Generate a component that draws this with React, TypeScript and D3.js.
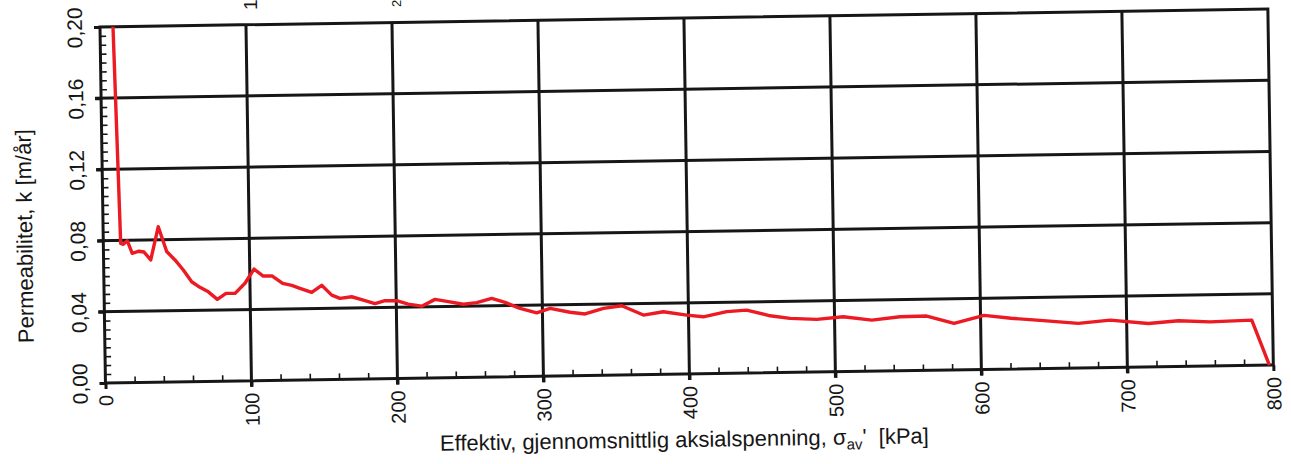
import React, { Component } from 'react';
import * as d3 from 'd3';

// effective average axial stress [kPa] and permeability k [m/år]
const stress = [
  8.9, 11.9, 13.7, 16.4, 19.7, 24.3, 27.8, 32.3, 37.8, 43.3, 48.9, 54.5, 60.1, 65.7,
  71.4, 77.5, 83.5, 89.7, 96.6, 102.9, 109.2, 115.4, 122.4, 128.6, 134.2, 142.2,
  149.1, 155.9, 161.5, 169.5, 177.5, 185.4, 192.3, 200.3, 208.2, 217.4, 226.6,
  235.7, 245.9, 255.1, 265.4, 274.5, 284.7, 296.1, 305.3, 318.9, 329.2, 341.8,
  354.4, 369.1, 382.8, 398.8, 410.1, 426.2, 439.9, 455.9, 469.5, 487.8, 506.0,
  525.5, 544.9, 563.2, 581.8, 602.4, 620.9, 643.0, 666.9, 688.7, 714.9, 735.5,
  757.2, 785.7, 797.3
];
const permeability = [
  0.200, 0.0783, 0.0777, 0.0797, 0.0726, 0.0737, 0.0732, 0.0687, 0.0873, 0.0733,
  0.0685, 0.0628, 0.0561, 0.0529, 0.0503, 0.0460, 0.0493, 0.0492, 0.0548, 0.0627,
  0.0587, 0.0586, 0.0544, 0.0532, 0.0515, 0.0491, 0.0530, 0.0474, 0.0455, 0.0463,
  0.0443, 0.0423, 0.0438, 0.0437, 0.0417, 0.0404, 0.0441, 0.0427, 0.0411, 0.0419,
  0.0442, 0.0418, 0.0383, 0.0357, 0.0381, 0.0357, 0.0346, 0.0376, 0.0389, 0.0335,
  0.0352, 0.0331, 0.0320, 0.0347, 0.0354, 0.0320, 0.0304, 0.0296, 0.0308, 0.0287,
  0.0303, 0.0305, 0.0261, 0.0304, 0.0285, 0.0269, 0.0251, 0.0266, 0.0244, 0.0257,
  0.0248, 0.0254, 0.0
];

const xMajor = [0, 100, 200, 300, 400, 500, 600, 700, 800];
const yMajor = [0, 0.04, 0.08, 0.12, 0.16, 0.2];
const yLabels = ['0,00', '0,04', '0,08', '0,12', '0,16', '0,20'];

class App extends Component {
  myRef = React.createRef<HTMLDivElement>();

  componentDidMount() {
    const root = d3.select(this.myRef.current);
    root.selectAll('*').remove();

    const width = 1168;
    const height = 356;
    const font = '"Liberation Sans", Arial, sans-serif';
    const ink = '#161616';

    const x = d3.scaleLinear().domain([0, 800]).range([0, width]);
    const y = d3.scaleLinear().domain([0, 0.2]).range([height, 0]);

    const xMinor = d3.range(0, 801, 20).filter(d => d % 100 !== 0);
    const yMinor = d3.range(0, 41).map(d => d * 0.005).filter((d, i) => i % 8 !== 0);

    const svg = root
      .append('svg')
      .attr('width', 1291)
      .attr('height', 464)
      .style('position', 'absolute')
      .style('left', 0)
      .style('top', 0)
      .style('background', '#fff');

    // the scanned page sits a little crooked
    const g = svg.append('g').attr('transform', 'translate(100,27) rotate(-0.88)');

    // grid
    g.append('g')
      .selectAll('line')
      .data(xMajor.slice(1, -1))
      .enter()
      .append('line')
      .attr('x1', d => x(d)).attr('x2', d => x(d))
      .attr('y1', 0).attr('y2', height + 6)
      .attr('stroke', ink).attr('stroke-width', 3);

    g.append('g')
      .selectAll('line')
      .data(yMajor.slice(1, -1))
      .enter()
      .append('line')
      .attr('x1', -6).attr('x2', width)
      .attr('y1', d => y(d)).attr('y2', d => y(d))
      .attr('stroke', ink).attr('stroke-width', 3);

    // minor ticks point inwards
    const xMinorAxis = d3.axisBottom(x).tickValues(xMinor).tickSize(-6).tickFormat(() => '');
    const xm = g.append('g').attr('transform', `translate(0,${height})`).call(xMinorAxis);
    xm.select('.domain').remove();
    xm.selectAll('line').attr('stroke', ink).attr('stroke-width', 1.6);

    const yMinorAxis = d3.axisLeft(y).tickValues(yMinor).tickSize(-6).tickFormat(() => '');
    const ym = g.append('g').call(yMinorAxis);
    ym.select('.domain').remove();
    ym.selectAll('line').attr('stroke', ink).attr('stroke-width', 1.6);

    // major ticks outwards + labels
    const xAxis = d3.axisBottom(x).tickValues(xMajor).tickSize(6).tickFormat(d3.format('d'));
    const xa = g.append('g').attr('transform', `translate(0,${height})`).call(xAxis);
    xa.select('.domain').remove();
    xa.selectAll('line').attr('stroke', ink).attr('stroke-width', 3);
    xa.selectAll('text')
      .attr('x', null).attr('y', null).attr('dy', null)
      .attr('text-anchor', 'end')
      .attr('transform', 'translate(7,12) rotate(-90)')
      .style('font-family', font).style('font-size', '20px').attr('fill', ink);

    const yAxis = d3.axisLeft(y).tickValues(yMajor).tickSize(6).tickFormat((d, i) => yLabels[i]);
    const ya = g.append('g').call(yAxis);
    ya.select('.domain').remove();
    ya.selectAll('line').attr('stroke', ink).attr('stroke-width', 3);
    ya.selectAll('text')
      .attr('x', null).attr('y', null).attr('dy', null)
      .attr('text-anchor', 'middle')
      .attr('transform', 'translate(-18,0) rotate(-90)')
      .style('font-family', font).style('font-size', '21px').attr('fill', ink);

    // frame
    g.append('rect')
      .attr('width', width).attr('height', height)
      .attr('fill', 'none').attr('stroke', ink).attr('stroke-width', 3);

    // data line
    const line = d3.line<number>()
      .x((d, i) => x(stress[i]))
      .y(d => y(d));

    g.append('path')
      .datum(permeability)
      .attr('d', line)
      .attr('fill', 'none')
      .attr('stroke', '#ec1b23')
      .attr('stroke-width', 3.4)
      .attr('stroke-linejoin', 'round');

    // axis titles
    g.append('text')
      .attr('transform', 'translate(-71,208) rotate(-90)')
      .attr('text-anchor', 'middle')
      .style('font-family', font).style('font-size', '22px').attr('fill', ink)
      .text('Permeabilitet, k [m/år]');

    const xt = g.append('text')
      .attr('x', 578).attr('y', 429)
      .attr('text-anchor', 'middle')
      .style('font-family', font).style('font-size', '22px').attr('fill', ink);
    xt.append('tspan').text('Effektiv, gjennomsnittlig aksialspenning, σ');
    xt.append('tspan').attr('dy', 5).style('font-size', '15px').text('av');
    xt.append('tspan').attr('dy', -5).text("'  [kPa]").attr('xml:space', 'preserve');

    // cut-off header text from the page above
    svg.append('text')
      .attr('transform', 'translate(257,10) rotate(-90)')
      .style('font-family', font).style('font-size', '19px').attr('fill', ink)
      .text('1');
    svg.append('text')
      .attr('transform', 'translate(401,7) rotate(-90)')
      .style('font-family', font).style('font-size', '13px').attr('fill', ink)
      .text('2');
  }

  render() {
    return <div ref={this.myRef}></div>;
  }
}

export default App;
